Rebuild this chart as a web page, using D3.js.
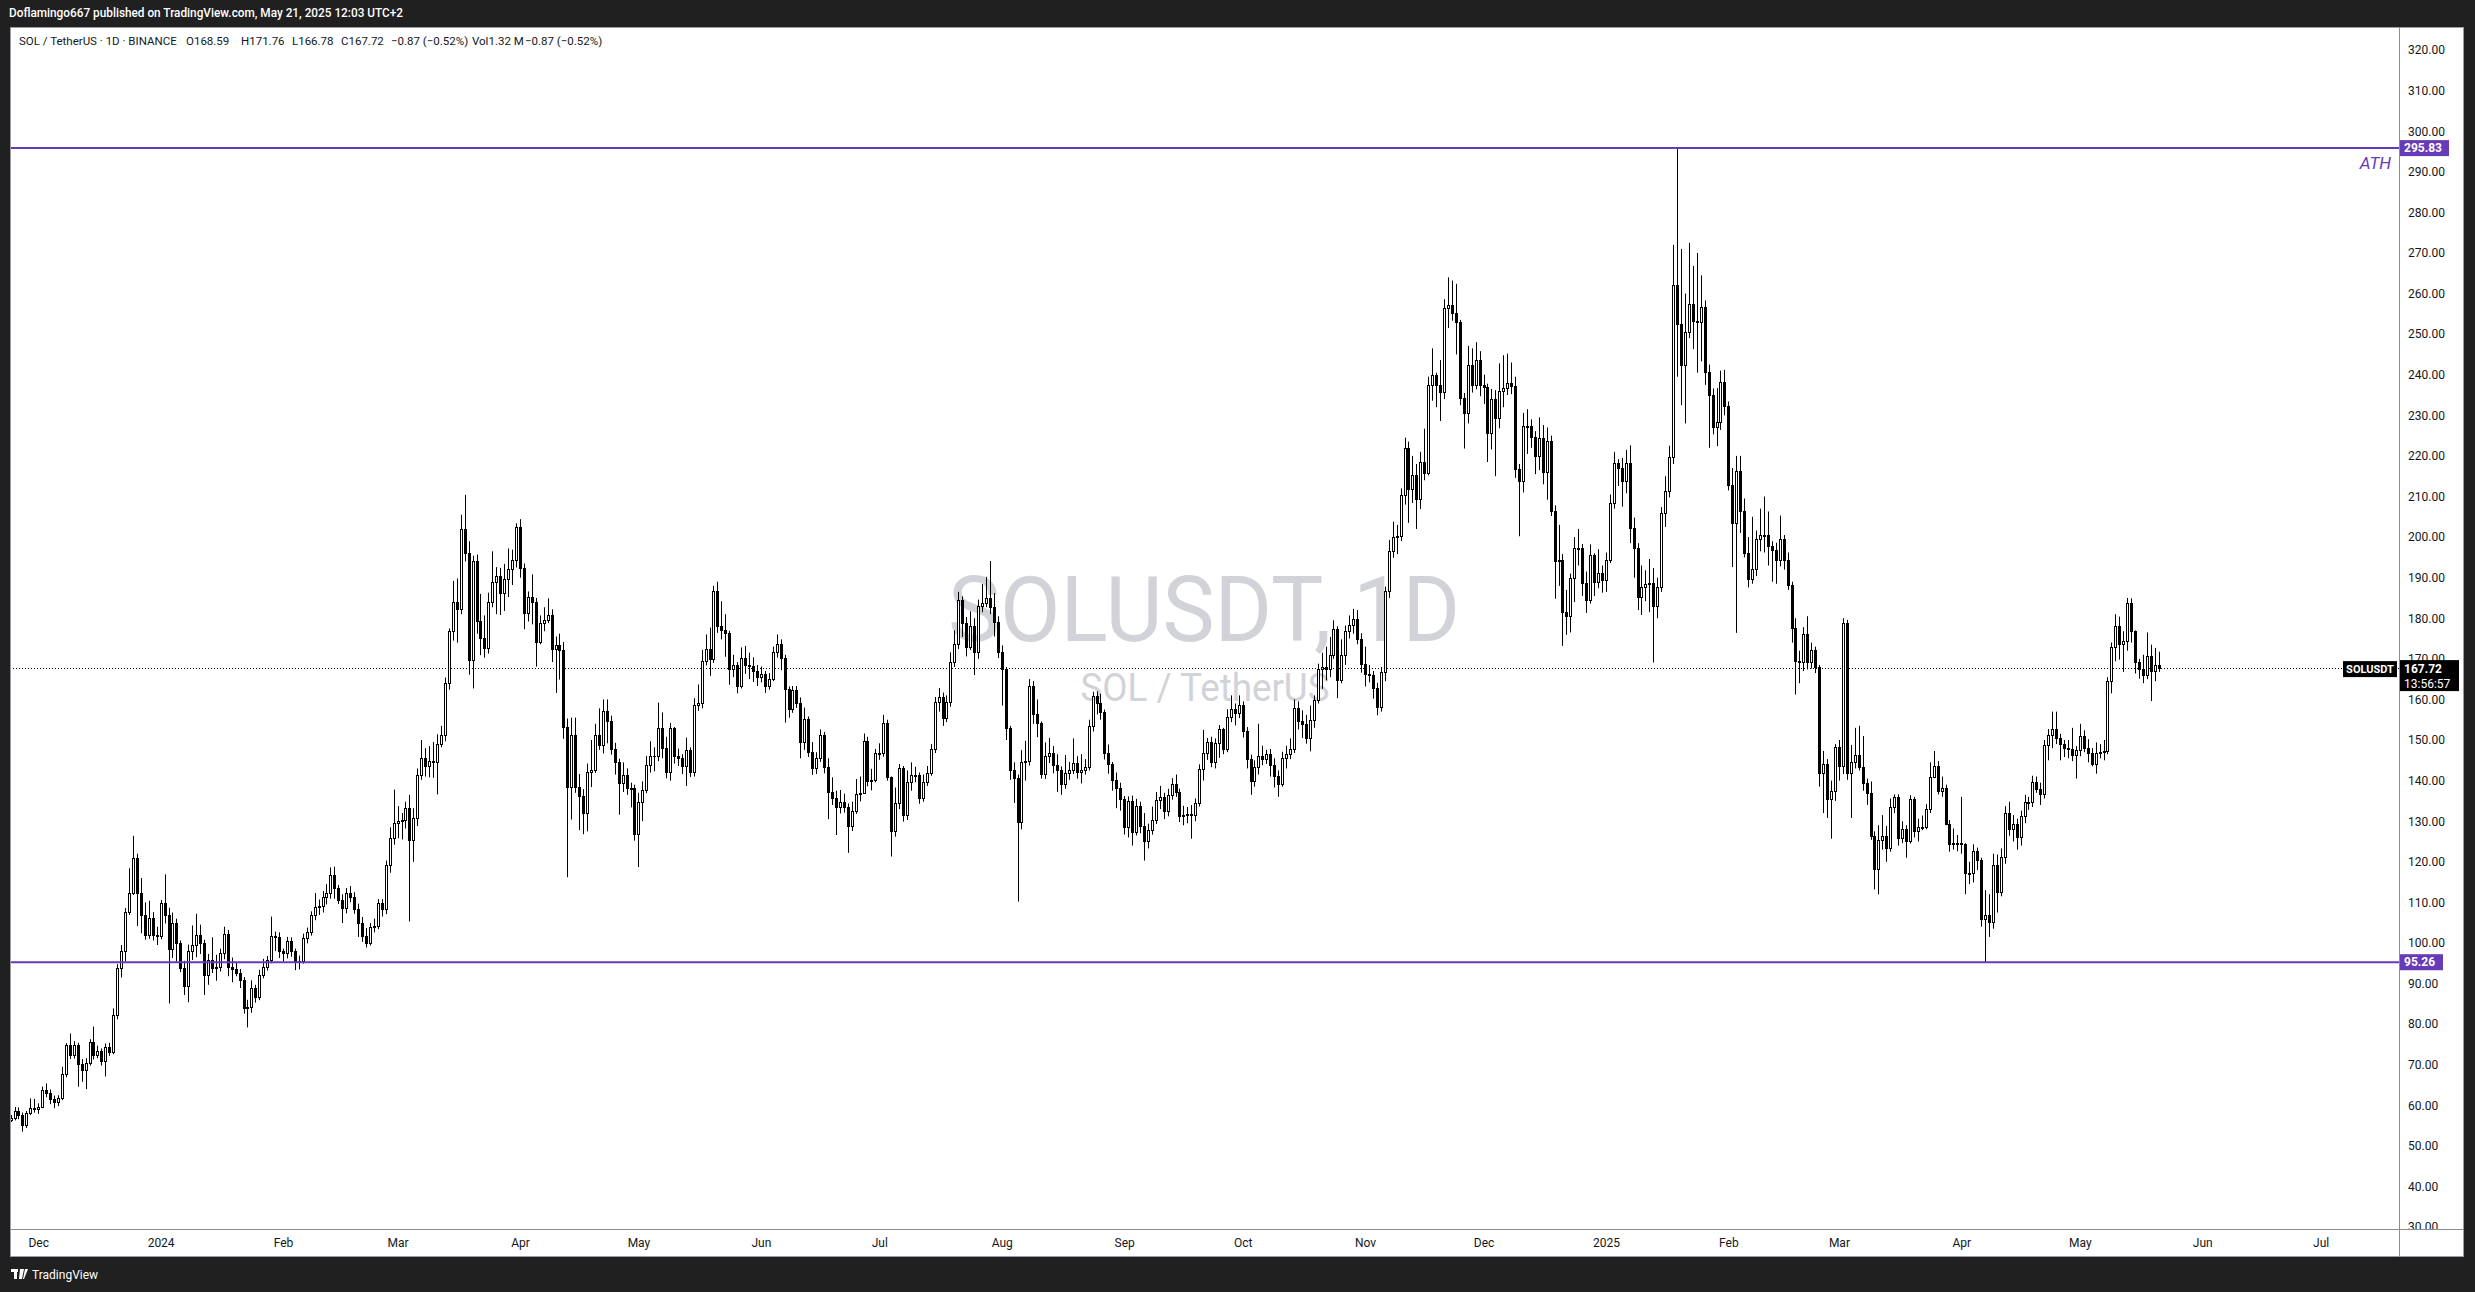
<!DOCTYPE html>
<html><head><meta charset="utf-8">
<script src="https://cdnjs.cloudflare.com/ajax/libs/d3/7.8.5/d3.min.js"></script>
<style>
html,body{margin:0;padding:0;background:#202020;overflow:hidden}
svg{display:block}
</style></head><body>
<svg id="chart" width="2475" height="1292"></svg>
<script>
// ---------------- DATA ----------------
const startDate = "2023-11-24";   // first daily candle
const firstOpen = 56.5;
// daily closes (Nov 24 2023 .. May 21 2025); each candle opens at the previous close
const closes = [
56.8,58.7,57.6,55.2,58.0,59.3,59.1,59.7,63.8,63.0,
61.5,60.9,61.7,67.6,74.9,72.4,74.9,70.2,68.7,70.5,
75.5,72.4,73.5,70.8,74.3,73.1,82.3,93.8,97.9,107.7,
112.4,120.9,112.4,106.9,102.0,106.1,102.0,101.8,109.8,106.9,
98.4,104.8,99.9,93.8,89.3,97.9,99.5,102.0,99.9,92.1,
95.8,93.8,94.2,97.5,102.2,94.2,93.5,92.7,91.0,83.9,
84.3,88.8,86.8,92.1,94.2,95.8,101.7,101.5,97.9,97.5,
100.6,97.9,95.4,95.6,101.2,102.6,106.9,108.9,109.1,111.4,
112.2,116.8,113.5,110.6,108.5,112.2,111.4,108.3,105.0,101.6,
99.9,104.0,104.3,109.8,108.3,119.2,125.8,129.5,130.0,130.3,
133.2,125.4,130.7,141.5,145.5,143.5,144.8,144.7,149.0,151.3,
164.0,176.9,183.9,182.2,201.9,196.0,169.7,194.2,179.4,175.2,
172.6,183.9,189.0,190.4,186.3,189.6,192.1,194.4,202.4,192.3,
181.4,185.2,183.9,174.2,178.8,179.6,180.9,172.4,173.4,172.2,
153.1,138.4,151.3,138.4,136.1,132.0,142.2,142.6,151.3,148.8,
157.2,154.8,147.7,144.7,139.4,141.4,138.1,138.1,126.8,134.8,
137.7,143.9,146.1,146.0,152.9,148.0,142.2,152.9,146.0,145.6,
143.5,147.6,142.0,158.7,159.1,169.5,172.5,169.9,186.7,178.2,
177.1,176.3,167.5,168.5,163.4,170.1,168.5,168.3,166.9,165.6,
166.3,163.2,165.0,171.8,173.7,170.1,162.5,157.6,162.3,159.0,
149.4,155.3,147.1,143.0,145.5,151.3,143.3,137.3,135.6,133.6,
134.8,133.6,128.7,132.6,136.7,137.0,149.7,140.0,140.1,146.7,
146.9,154.3,140.8,127.7,134.4,143.0,131.5,139.7,141.4,141.5,
135.6,139.7,141.8,147.7,159.3,160.5,155.4,159.3,169.1,173.6,
184.5,178.9,173.0,178.1,171.8,183.0,183.8,184.9,182.7,179.2,
171.8,167.4,152.9,142.6,140.6,129.7,144.7,144.8,163.3,156.4,
154.1,141.6,146.1,146.7,143.9,142.6,139.2,141.9,142.6,144.3,
142.2,142.5,143.3,153.5,160.8,159.0,157.0,146.7,144.0,140.2,
138.1,135.4,128.5,135.0,127.4,133.7,128.7,125.0,127.8,130.3,
135.2,135.9,132.4,136.5,139.2,137.3,131.3,131.5,131.8,131.5,
134.4,142.8,146.7,149.4,144.7,149.2,152.6,147.9,155.6,157.6,
156.7,158.6,152.3,145.3,140.0,143.3,146.1,145.3,146.6,143.9,
141.2,139.2,145.5,146.6,147.7,157.9,154.7,154.0,150.4,154.9,
159.8,167.5,168.0,167.5,171.0,177.4,164.9,171.0,176.9,178.4,
179.8,175.0,168.8,166.3,166.0,162.7,158.1,166.7,186.8,196.6,
200.1,200.3,210.3,222.0,211.9,215.4,209.4,218.6,215.8,237.5,
239.9,237.5,235.7,256.4,257.2,255.1,253.0,234.3,230.5,242.3,
237.5,243.6,237.5,237.0,225.7,234.0,229.3,235.9,236.7,238.0,
237.2,216.7,213.7,227.3,227.4,224.7,219.9,224.4,216.1,223.6,
206.5,194.0,194.4,181.6,180.6,190.0,197.4,197.4,188.7,184.4,
195.5,188.9,191.2,189.4,194.4,208.3,218.3,216.9,213.7,218.3,
202.2,197.4,185.2,187.8,188.4,188.7,183.0,187.8,206.0,211.3,
219.7,262.1,252.4,242.5,250.6,257.5,253.2,253.0,256.7,240.7,
235.0,227.1,228.4,238.2,232.2,212.9,203.5,216.3,206.4,196.1,
189.7,192.1,199.5,200.4,200.4,197.9,196.9,194.3,199.5,194.3,
188.3,177.5,169.4,169.2,176.0,169.1,172.1,167.9,141.9,144.2,
135.4,137.5,148.2,143.7,178.9,141.9,144.6,146.2,143.3,139.3,
137.0,126.4,118.2,125.4,126.4,123.3,133.4,135.9,125.8,128.0,
125.2,135.4,127.6,128.5,128.6,133.0,141.0,143.5,137.5,138.3,
129.4,124.5,124.6,124.6,124.3,117.3,117.3,122.7,120.4,105.8,
107.0,105.2,119.1,112.6,121.3,132.1,128.2,129.4,126.1,131.2,
134.8,134.8,139.7,137.9,136.6,148.7,151.3,152.7,150.6,149.1,
148.0,147.9,146.2,147.6,150.9,148.0,146.7,144.0,146.9,147.0,
147.2,164.6,172.8,178.0,173.6,174.5,183.8,176.9,169.1,167.6,
165.9,170.6,167.0,168.59,167.72
];
const highs = [
57.6,59.6,59.5,58.2,58.6,61.7,61.6,60.5,64.6,65.4,
63.9,62.4,62.5,69.5,75.3,77.7,75.8,75.4,71.4,71.6,
76.3,79.4,74.7,74.0,75.2,75.4,83.9,94.8,99.5,108.6,
118.4,126.4,122.0,116.0,110.0,110.4,107.6,104.0,110.6,116.9,
108.7,107.5,106.0,100.6,95.6,99.6,104.3,107.2,104.5,100.8,
97.3,101.4,97.1,98.6,104.0,103.2,96.4,95.3,93.6,91.6,
86.0,90.8,89.7,93.4,96.1,96.8,106.5,102.8,102.6,98.6,
101.5,101.4,98.6,96.9,102.3,103.8,107.8,112.3,110.7,112.8,
114.5,118.6,118.8,114.3,112.0,113.5,114.0,112.5,109.7,106.4,
103.7,104.9,106.0,110.8,110.8,120.3,128.5,137.8,133.7,132.0,
134.8,136.5,133.2,143.0,150.0,148.0,148.5,149.5,151.4,153.5,
165.4,177.5,189.2,189.8,205.5,210.4,199.0,195.4,195.7,186.0,
180.7,186.3,196.5,192.6,192.4,193.4,197.2,196.9,203.4,204.4,
193.5,186.6,190.8,185.0,180.7,182.7,184.9,182.2,175.5,176.2,
174.1,155.3,155.5,155.5,141.6,137.9,144.2,150.0,154.0,157.8,
160.0,160.0,156.0,149.3,145.4,144.5,143.0,139.5,139.0,137.0,
139.8,146.1,149.7,148.2,159.2,156.8,150.8,154.2,153.2,147.9,
146.5,150.6,148.2,160.3,163.7,172.2,176.0,177.7,188.0,189.0,
184.2,181.0,176.9,171.0,169.2,172.8,173.2,171.5,170.4,168.5,
168.1,167.0,166.5,173.0,176.0,174.8,171.0,163.2,163.3,163.3,
160.5,158.0,155.8,149.5,147.0,152.6,152.0,145.5,140.8,137.5,
137.7,136.8,134.4,134.8,140.4,141.0,151.6,150.8,142.9,147.8,
149.2,156.2,155.0,141.0,138.3,144.1,143.6,142.5,144.5,143.4,
142.0,141.5,143.6,149.0,160.6,162.8,161.7,161.0,171.6,177.0,
186.5,185.4,180.3,181.7,180.0,184.6,188.4,190.2,194.1,186.2,
180.5,173.3,168.0,153.5,144.5,141.5,147.5,149.8,165.0,164.5,
160.0,154.6,149.4,150.5,148.5,146.5,143.5,146.3,144.6,150.4,
146.0,146.5,145.3,155.0,161.9,162.0,161.4,157.5,148.9,144.6,
142.0,139.5,136.2,136.1,136.3,135.5,134.8,132.0,129.4,133.6,
137.2,138.7,137.0,138.0,140.6,141.5,138.0,133.8,133.5,134.0,
135.6,144.0,152.5,150.5,150.8,150.4,153.7,153.0,157.6,161.0,
159.0,161.0,159.5,153.2,146.4,145.0,154.0,148.6,147.6,147.8,
145.5,142.5,147.1,148.6,150.4,160.0,159.5,157.3,156.2,158.5,
161.0,168.8,171.5,173.0,175.4,179.5,178.0,174.8,178.2,180.7,
182.3,182.0,176.3,173.0,168.5,167.0,164.1,168.0,187.8,199.3,
203.8,203.0,212.0,224.5,223.5,220.0,218.0,221.0,226.7,239.5,
246.5,240.5,243.6,258.6,264.0,263.2,262.4,253.5,235.5,247.1,
246.5,248.0,245.8,240.0,237.8,236.5,236.2,242.8,244.8,245.2,
243.0,239.5,218.0,230.6,231.5,229.0,226.1,229.5,227.6,227.0,
225.0,207.8,203.0,195.8,187.0,191.0,200.0,202.0,198.3,191.5,
198.2,196.0,197.0,193.0,196.2,210.5,221.0,219.2,219.5,221.5,
222.6,204.8,198.5,193.0,191.8,194.6,192.4,190.0,207.4,215.0,
222.5,272.0,295.83,271.0,260.0,272.5,266.8,270.0,264.5,258.3,
242.5,236.6,236.7,241.0,241.2,233.4,217.0,220.0,220.0,209.5,
200.0,205.0,201.6,207.0,210.0,206.3,199.0,198.6,205.3,200.5,
196.2,189.0,180.0,172.0,177.8,180.5,174.0,173.0,168.5,147.3,
145.3,140.0,149.0,150.0,180.0,179.6,148.8,153.0,153.5,151.0,
140.5,139.8,127.5,129.0,131.5,128.8,135.6,136.6,136.6,130.0,
129.0,136.4,136.0,130.6,131.4,134.2,144.5,147.3,144.8,141.0,
139.0,130.3,128.2,126.6,136.0,124.6,120.0,124.3,123.5,121.0,
113.0,112.0,122.0,121.8,123.3,133.7,134.8,131.5,130.6,132.6,
136.5,136.0,141.2,141.0,139.5,150.0,152.7,157.0,157.0,151.5,
150.0,150.0,153.0,148.5,154.0,152.4,150.2,148.0,149.4,149.0,
150.0,165.5,174.0,181.0,180.4,176.8,185.0,184.9,177.0,170.0,
171.0,176.5,173.5,172.7,171.76
];
const lows = [
55.9,56.3,56.6,53.5,54.4,57.6,58.2,57.9,59.3,62.0,
60.3,59.3,59.8,61.3,66.9,71.4,71.5,64.6,65.8,64.0,
69.8,71.3,71.6,69.8,67.1,72.2,72.6,81.2,91.5,95.5,
106.9,111.8,104.2,102.4,100.8,101.0,100.6,99.5,100.9,104.8,
85.1,96.3,95.4,92.8,87.2,85.4,95.8,96.5,97.3,87.2,
89.7,92.6,90.7,93.0,96.0,91.8,90.3,91.8,88.9,82.6,
79.2,82.8,85.3,85.9,91.3,93.2,95.0,98.0,96.3,95.4,
96.2,96.6,93.3,93.5,94.9,99.9,101.8,105.6,106.9,107.5,
109.5,110.9,110.9,109.6,104.9,107.3,110.0,107.2,101.5,100.3,
98.9,99.4,102.6,103.4,106.5,107.1,117.3,124.2,125.8,125.5,
128.2,105.3,120.0,128.8,140.2,141.0,140.8,140.7,136.6,148.2,
149.7,162.4,174.5,174.0,181.0,194.0,166.1,162.7,176.2,170.9,
170.3,171.3,182.7,181.0,180.8,181.8,185.2,188.2,192.5,190.0,
177.3,179.2,178.5,168.1,173.6,176.8,178.8,169.2,161.6,164.9,
150.3,116.2,130.4,137.0,127.8,126.8,127.5,138.4,141.9,147.6,
146.7,149.2,146.4,141.5,131.6,137.2,136.5,133.4,125.2,118.7,
130.0,136.9,142.0,142.3,144.8,145.5,140.6,140.0,144.2,143.6,
141.6,138.7,140.9,141.0,157.2,157.8,168.4,165.8,169.0,176.4,
174.8,170.5,163.6,165.5,161.5,162.7,166.3,165.0,164.3,163.3,
164.2,161.6,162.4,164.5,170.3,167.2,154.3,155.5,156.7,157.9,
145.5,147.6,145.8,141.4,141.6,144.6,141.8,130.5,134.0,126.6,
131.9,132.1,122.2,127.6,131.8,134.9,136.7,138.6,137.6,139.6,
145.1,145.9,140.0,121.3,126.2,133.0,129.9,130.3,137.5,139.6,
134.3,134.8,138.7,141.2,146.8,157.0,153.5,154.4,158.2,168.0,
172.4,175.4,170.6,172.2,166.0,170.0,181.5,182.7,181.0,175.5,
170.2,158.5,150.0,140.2,134.5,110.2,128.0,140.0,143.7,154.0,
150.7,140.5,140.4,144.3,141.8,137.2,136.5,138.0,140.2,141.6,
140.5,139.3,141.5,142.5,152.1,156.3,155.0,145.2,141.7,137.5,
133.2,132.6,126.7,126.0,124.0,126.5,127.0,120.3,123.3,126.7,
129.3,133.0,130.5,131.2,135.3,136.0,129.8,129.0,129.5,125.7,
130.0,133.6,140.0,145.1,143.3,143.0,145.6,146.5,147.0,154.4,
153.6,155.4,150.6,143.0,136.5,138.5,141.5,143.8,144.1,141.0,
138.3,136.0,138.5,143.0,145.3,146.8,152.6,150.5,149.1,147.2,
153.0,159.0,162.6,164.7,165.5,170.0,160.3,164.0,168.5,175.0,
176.2,173.6,166.6,163.2,164.2,160.2,156.1,157.0,164.5,185.0,
194.9,195.8,199.0,208.0,203.5,208.4,202.0,206.9,214.0,215.2,
233.6,232.0,228.6,234.0,251.5,253.3,245.0,232.5,221.8,228.0,
235.6,236.4,234.7,232.8,218.5,221.6,215.0,226.8,232.0,235.0,
235.2,214.6,200.2,211.0,220.5,222.0,215.5,216.5,213.0,209.2,
205.2,184.8,188.0,173.2,175.9,176.5,184.0,193.0,185.5,181.3,
183.6,185.5,187.4,186.3,186.5,193.6,207.0,212.6,207.5,210.8,
198.5,190.0,182.0,180.8,184.2,181.5,169.1,180.0,186.5,202.5,
209.8,218.0,239.5,232.5,228.0,249.0,246.3,240.5,243.3,237.5,
222.0,225.3,222.4,226.4,230.0,211.5,192.6,176.4,201.0,195.0,
187.6,188.5,190.4,196.5,196.2,193.0,189.0,188.5,192.8,192.0,
187.0,174.0,161.2,164.0,167.0,167.4,167.6,166.5,138.5,132.0,
130.8,125.7,135.0,140.0,141.6,140.2,130.8,143.0,142.5,137.5,
134.0,125.4,113.2,112.0,123.0,120.0,122.5,132.0,124.0,124.6,
121.0,124.5,126.0,125.0,127.8,128.0,132.0,140.6,136.6,136.0,
129.0,122.5,123.0,122.6,122.0,112.0,114.5,114.9,118.0,104.0,
95.26,101.5,103.5,107.5,111.5,119.5,126.4,125.0,123.0,124.0,
129.5,132.8,133.5,137.0,134.0,135.6,145.0,148.0,149.0,145.0,
145.8,145.5,144.8,140.5,146.0,147.0,144.5,143.5,141.7,145.5,
145.0,146.5,161.5,169.4,169.8,166.8,172.0,174.0,166.4,165.1,
164.0,165.0,159.6,164.5,166.78
];
const priceTicks = [30,40,50,60,70,80,90,100,110,120,130,140,150,160,170,180,190,200,210,220,230,240,250,260,270,280,290,300,310,320];
const monthTicks = ["2023-12-01","2024-01-01","2024-02-01","2024-03-01","2024-04-01","2024-05-01","2024-06-01","2024-07-01","2024-08-01","2024-09-01","2024-10-01","2024-11-01","2024-12-01","2025-01-01","2025-02-01","2025-03-01","2025-04-01","2025-05-01","2025-06-01","2025-07-01"];
const xDomain = ["2023-12-01","2025-07-01"];
const athLevel = 295.83;
const supportLevel = 95.26;
const lastPrice = 167.72;
const countdown = "13:56:57";
const symbol = "SOLUSDT";
const titleText = "Doflamingo667 published on TradingView.com, May 21, 2025 12:03 UTC+2";
const legendParts = ["SOL / TetherUS · 1D · BINANCE","O168.59","H171.76","L166.78","C167.72","−0.87 (−0.52%)","Vol1.32 M","−0.87 (−0.52%)"];

// ---------------- LAYOUT ----------------
const W = 2475, H = 1292;
const P = {left:10, right:2399, top:27, bottom:1229, axisR:2464, axisB:1257};
const parse = d3.utcParse("%Y-%m-%d");
const svg = d3.select("#chart");
const FONT = "Roboto, 'Liberation Sans', Arial, sans-serif";
const INK = "#131722";
const PURPLE = "#673ab7";

svg.append("rect").attr("width",W).attr("height",H).attr("fill","#202020");
svg.append("rect").attr("x",P.left+0.5).attr("y",P.top+0.5)
  .attr("width",P.axisR-P.left-1).attr("height",P.axisB-P.top-1)
  .attr("fill","#ffffff").attr("stroke","#9a9da6").attr("stroke-width",1);

const defs = svg.append("defs");
defs.append("clipPath").attr("id","plotClip").append("rect")
  .attr("x",P.left+1).attr("y",P.top+1).attr("width",P.right-P.left-1).attr("height",P.bottom-P.top-1);
defs.append("clipPath").attr("id","axisClip").append("rect")
  .attr("x",P.right).attr("y",P.top+1).attr("width",P.axisR-P.right-1).attr("height",P.bottom-P.top-1);

const y = d3.scaleLinear().domain([30,320]).range([1227.1,50]);
const x = d3.scaleUtc().domain(xDomain.map(parse)).range([38.2,2320.7]);

// title
svg.append("text").attr("x",9).attr("y",17).attr("fill","#ffffff")
  .attr("font-family",FONT).attr("font-size",12).attr("font-weight",500)
  .attr("textLength",394).attr("lengthAdjust","spacingAndGlyphs").text(titleText);

const plot = svg.append("g").attr("clip-path","url(#plotClip)");

// watermark
plot.append("text").attr("x",1204).attr("y",641).attr("text-anchor","middle")
  .attr("font-family",FONT).attr("font-size",90).attr("fill","#d1d3d8")
  .attr("textLength",512).attr("lengthAdjust","spacingAndGlyphs").text("SOLUSDT, 1D");
plot.append("text").attr("x",1205).attr("y",701).attr("text-anchor","middle")
  .attr("font-family",FONT).attr("font-size",38).attr("fill","#d1d3d8")
  .attr("textLength",249).attr("lengthAdjust","spacingAndGlyphs").text("SOL / TetherUS");

// candles
const t0 = parse(startDate);
const candles = closes.map((c,i)=>({
  date: d3.utcDay.offset(t0,i),
  open: i===0 ? firstOpen : closes[i-1],
  close: c, high: highs[i], low: lows[i]
}));

// last price dotted line
plot.append("line").attr("x1",P.left).attr("x2",P.right)
  .attr("y1",Math.round(y(lastPrice))+0.5).attr("y2",Math.round(y(lastPrice))+0.5)
  .attr("stroke","#000").attr("stroke-width",1).attr("stroke-dasharray","1,2");

const cg = plot.append("g");
cg.selectAll("line.wick").data(candles).join("line").attr("class","wick")
  .attr("x1",d=>Math.round(x(d.date))+0.5).attr("x2",d=>Math.round(x(d.date))+0.5)
  .attr("y1",d=>y(d.high)).attr("y2",d=>y(d.low))
  .attr("stroke","#000").attr("stroke-width",1);

cg.selectAll("rect.up").data(candles.filter(d=>d.close>=d.open)).join("rect").attr("class","up")
  .attr("x",d=>Math.round(x(d.date))-0.5)
  .attr("y",d=>Math.round(y(d.close))+0.5)
  .attr("width",2)
  .attr("height",d=>Math.max(1,Math.round(y(d.open))-Math.round(y(d.close))))
  .attr("fill","#ffffff").attr("stroke","#000").attr("stroke-width",1);

cg.selectAll("rect.dn").data(candles.filter(d=>d.close<d.open)).join("rect").attr("class","dn")
  .attr("x",d=>Math.round(x(d.date))-1)
  .attr("y",d=>Math.round(y(d.open)))
  .attr("width",3)
  .attr("height",d=>Math.max(1,Math.round(y(d.close))-Math.round(y(d.open))+1))
  .attr("fill","#000");

// horizontal levels
[athLevel, supportLevel].forEach(v=>{
  plot.append("line").attr("x1",P.left).attr("x2",P.right)
    .attr("y1",y(v)).attr("y2",y(v)).attr("stroke",PURPLE).attr("stroke-width",2);
});
plot.append("text").attr("x",2391).attr("y",169).attr("text-anchor","end")
  .attr("font-family",FONT).attr("font-size",17).attr("font-style","italic")
  .attr("fill",PURPLE).text("ATH");

// legend
const legendX = [19,186,241,292,341,391,472,525];
legendParts.forEach((t,i)=>{
  svg.append("text").attr("x",legendX[i]).attr("y",45)
    .attr("font-family",FONT).attr("font-size",11.5).attr("fill",INK).text(t);
});

// axes separators
svg.append("line").attr("x1",P.right+0.5).attr("x2",P.right+0.5).attr("y1",P.top).attr("y2",P.axisB)
  .attr("stroke","#8a8d96").attr("stroke-width",1);
svg.append("line").attr("x1",P.left).attr("x2",P.axisR).attr("y1",P.bottom+0.5).attr("y2",P.bottom+0.5)
  .attr("stroke","#8a8d96").attr("stroke-width",1);

// price axis
const yAxis = svg.append("g").attr("clip-path","url(#axisClip)")
  .append("g").attr("transform",`translate(${P.right},0)`)
  .call(d3.axisRight(y).tickValues(priceTicks).tickFormat(d3.format(".2f")).tickSize(0).tickPadding(9));
yAxis.select(".domain").remove();
yAxis.selectAll("text").attr("font-family",FONT).attr("font-size",12).attr("fill",INK);

// time axis
const xAxis = svg.append("g").attr("transform",`translate(0,${P.bottom})`)
  .call(d3.axisBottom(x).tickValues(monthTicks.map(parse))
    .tickFormat(d=>d.getUTCMonth()===0 ? d3.utcFormat("%Y")(d) : d3.utcFormat("%b")(d))
    .tickSize(0));
xAxis.select(".domain").remove();
xAxis.selectAll("text").attr("y",14).attr("dy","0.35em")
  .attr("font-family",FONT).attr("font-size",12).attr("fill",INK);

// level labels on axis
function levelLabel(v, w){
  const yy = y(v);
  svg.append("rect").attr("x",P.right+1).attr("y",yy-8).attr("width",w).attr("height",16).attr("fill",PURPLE);
  svg.append("text").attr("x",P.right+5).attr("y",yy).attr("dy","0.35em")
    .attr("font-family",FONT).attr("font-size",12).attr("font-weight",700).attr("fill","#fff")
    .text(v.toFixed(2));
}
levelLabel(athLevel,49);
levelLabel(supportLevel,43);

// last price labels
const yl = y(lastPrice);
svg.append("rect").attr("x",2343).attr("y",yl-7).attr("width",54).attr("height",16).attr("fill","#000");
svg.append("text").attr("x",2370).attr("y",yl+1).attr("dy","0.35em").attr("text-anchor","middle")
  .attr("font-family",FONT).attr("font-size",11).attr("font-weight",700).attr("fill","#fff").text(symbol);
svg.append("rect").attr("x",P.right+1).attr("y",yl-8).attr("width",59).attr("height",31).attr("fill","#000");
svg.append("text").attr("x",P.right+5).attr("y",yl+1).attr("dy","0.35em")
  .attr("font-family",FONT).attr("font-size",12).attr("font-weight",700).attr("fill","#fff").text(lastPrice.toFixed(2));
svg.append("text").attr("x",P.right+5).attr("y",yl+16).attr("dy","0.35em")
  .attr("font-family",FONT).attr("font-size",12).attr("fill","#fff").text(countdown);

// TradingView footer
const foot = svg.append("g").attr("transform","translate(11,1269)");
foot.append("rect").attr("x",0).attr("y",0).attr("width",7).attr("height",3).attr("fill","#fff");
foot.append("rect").attr("x",3).attr("y",0).attr("width",3).attr("height",10).attr("fill","#fff");
foot.append("path").attr("d","M9,0 L13,0 L11,10 L8,10 Z M14,0 L17,0 L13,10 L12,10 Z").attr("fill","#fff");
foot.append("text").attr("x",21).attr("y",9.5).attr("font-family",FONT).attr("font-size",12)
  .attr("fill","#fff").text("TradingView");
</script>
</body></html>
